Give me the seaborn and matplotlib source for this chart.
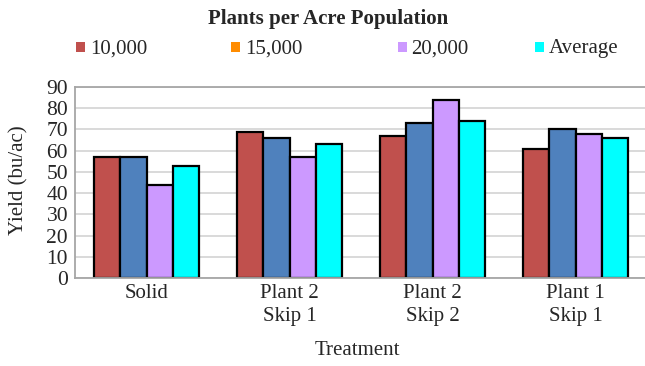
import matplotlib
matplotlib.use("Agg")
import matplotlib.pyplot as plt
from matplotlib.patches import Rectangle
import pandas as pd
import seaborn as sns

# Yield by row treatment and plant population
treatments = ["Solid", "Plant 2\nSkip 1", "Plant 2\nSkip 2", "Plant 1\nSkip 1"]
populations = ["10,000", "15,000", "20,000", "Average"]
yield_10k = [57, 69, 67, 61]
yield_15k = [57, 66, 73, 70]
yield_20k = [44, 57, 84, 68]
yield_avg = [53, 63, 74, 66]
y_ticks = [0, 10, 20, 30, 40, 50, 60, 70, 80, 90]

bar_colors = ["#C0504D", "#4F81BD", "#CC99FF", "#00FFFF"]
legend_colors = ["#C0504D", "#FF8C00", "#CC99FF", "#00FFFF"]

series = [yield_10k, yield_15k, yield_20k, yield_avg]
df = pd.DataFrame(
    [
        {"Treatment": t, "Population": p, "Yield": v}
        for p, vals in zip(populations, series)
        for t, v in zip(treatments, vals)
    ]
)

sns.set_style("white")
plt.rcParams["font.family"] = ["Liberation Serif", "DejaVu Serif"]

W, H = 645, 366
fig = plt.figure(figsize=(W / 100, H / 100), dpi=100)
ax = fig.add_axes([75 / W, 88 / H, 572 / W, 191 / H])

sns.barplot(
    data=df, x="Treatment", y="Yield", hue="Population",
    order=treatments, hue_order=populations, palette=bar_colors,
    saturation=1, edgecolor="black", linewidth=1.6, width=0.734,
    legend=False, ax=ax,
)

ax.set_xlim(-0.5, 3.5)
ax.set_ylim(0, 90)
ax.set_yticks(y_ticks)
ax.tick_params(axis="y", labelsize=15.5, length=0, pad=5)
ax.yaxis.grid(True, color="#D9D9D9", linewidth=1.4)
ax.set_axisbelow(True)

ax.set_xticks(range(len(treatments)))
ax.set_xticklabels(treatments, fontsize=15, linespacing=1.3)
ax.tick_params(axis="x", length=0, pad=4)
ax.set_xticks([i - 0.5 for i in range(len(treatments) + 1)], minor=True)
ax.tick_params(axis="x", which="minor", length=5, width=1, color="#C8C8C8",
               direction="out")

for side in ["left", "bottom", "top"]:
    ax.spines[side].set_visible(True)
    ax.spines[side].set_color("#A6A6A6")
    ax.spines[side].set_linewidth(1.3)
ax.spines["right"].set_visible(False)

ax.set_xlabel("Treatment", fontsize=15)
ax.xaxis.set_label_coords(0.493, -0.33)
ax.set_ylabel("Yield (bu/ac)", fontsize=15)
ax.yaxis.set_label_coords(-0.082, 0.513)

# title and legend row above the plot
fig.text(328 / W, 1 - 24 / H, "Plants per Acre Population", ha="center",
         va="baseline", fontsize=15, fontweight="bold")

marker_x = [80.5, 235.5, 402, 539]
for label, color, mx in zip(populations, legend_colors, marker_x):
    fig.patches.append(Rectangle(((mx - 4.5) / W, 1 - 51.5 / H), 9 / W, 9 / H,
                                 transform=fig.transFigure, facecolor=color,
                                 edgecolor="none"))
    fig.text((mx + 9.5) / W, 1 - 53.5 / H, label, ha="left", va="baseline",
             fontsize=15)

fig.savefig("out.png", dpi=100)
